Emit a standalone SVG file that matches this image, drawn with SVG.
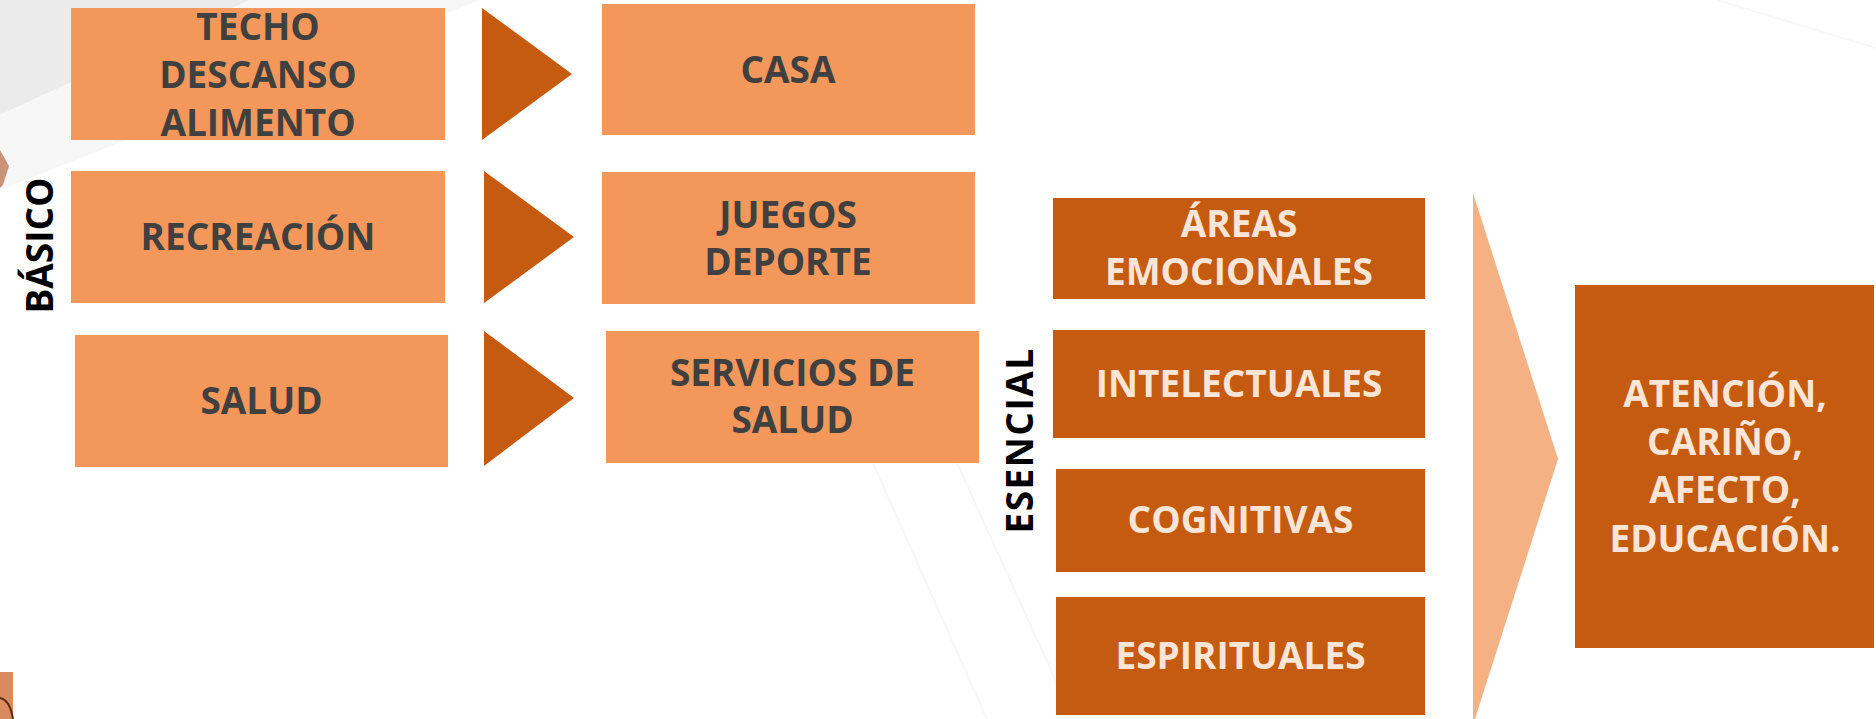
<svg xmlns="http://www.w3.org/2000/svg" width="1876" height="719" viewBox="0 0 1876 719">
  <style>
    .light { fill: #F4975A; }
    .dark { fill: #C55A11; }
    .tri { fill: #C55A11; }
    .t { font-family: "Open Sans", "Liberation Sans", sans-serif; font-weight: bold; font-size: 37px; text-anchor: middle; }
    .tdark { fill: #404040; }
    .tlight { fill: #FBE5D6; }
    .side { font-family: "Open Sans", "Liberation Sans", sans-serif; font-weight: bold; font-size: 37px; text-anchor: middle; fill: #000000; }
    .faint { stroke: #F8F8F8; stroke-width: 2; fill: none; }
  </style>
  <rect width="1876" height="719" fill="#FFFFFF"/>
  <g id="background">
    <polygon points="0,0 250,0 0,115" fill="#EBEBEB"/>
    <polygon points="250,0 480,0 470,4 0,190 0,115" fill="#F7F7F7"/>
    <line class="faint" x1="873" y1="463" x2="987" y2="719"/>
    <line class="faint" x1="957" y1="463" x2="1060" y2="690"/>
    <line class="faint" x1="1717" y1="0" x2="1876" y2="48"/>
    <polygon points="0,150 9,166 3,185 0,188" fill="#C9937A"/>
    <rect x="0" y="672" width="13" height="47" fill="#D98A5E"/>
    <path d="M0,698 Q10,700 13,719" fill="none" stroke="#5A2D10" stroke-width="2"/>
  </g>
  <g id="connectors">
    <polygon class="tri" points="482,8 572,74 482,140"/>
    <polygon class="tri" points="484,171 574,237 484,303"/>
    <polygon class="tri" points="484,331 574,398 484,466"/>
    <polygon points="1473,193 1558,459 1473,725" fill="#F4B183"/>
  </g>
  <g id="label-basico">
    <text class="side" x="53" y="245.5" transform="rotate(-90 53 245.5)">BÁSICO</text>
  </g>
  <g id="label-esencial">
    <text class="side" x="1033" y="440.5" letter-spacing="1.5" transform="rotate(-90 1033 440.5)">ESENCIAL</text>
  </g>
  <g id="node-techo">
    <rect class="light" x="71" y="8" width="374" height="132"/>
    <text class="t tdark" x="258" y="40">TECHO</text>
    <text class="t tdark" x="258" y="88">DESCANSO</text>
    <text class="t tdark" x="258" y="136">ALIMENTO</text>
  </g>
  <g id="node-casa">
    <rect class="light" x="602" y="4" width="373" height="131"/>
    <text class="t tdark" x="788" y="83">CASA</text>
  </g>
  <g id="node-recreacion">
    <rect class="light" x="71" y="171" width="374" height="132"/>
    <text class="t tdark" x="258" y="250">RECREACIÓN</text>
  </g>
  <g id="node-juegos">
    <rect class="light" x="602" y="172" width="373" height="132"/>
    <text class="t tdark" x="788" y="228">JUEGOS</text>
    <text class="t tdark" x="788" y="275">DEPORTE</text>
  </g>
  <g id="node-salud">
    <rect class="light" x="75" y="335" width="373" height="132"/>
    <text class="t tdark" x="261.5" y="414">SALUD</text>
  </g>
  <g id="node-servicios">
    <rect class="light" x="606" y="331" width="373" height="132"/>
    <text class="t tdark" x="792.5" y="386">SERVICIOS DE</text>
    <text class="t tdark" x="792.5" y="433">SALUD</text>
  </g>
  <g id="node-areas">
    <rect class="dark" x="1053" y="198" width="372" height="101"/>
    <text class="t tlight" x="1239" y="237">ÁREAS</text>
    <text class="t tlight" x="1239" y="285">EMOCIONALES</text>
  </g>
  <g id="node-intelectuales">
    <rect class="dark" x="1053" y="330" width="372" height="108"/>
    <text class="t tlight" x="1239" y="397">INTELECTUALES</text>
  </g>
  <g id="node-cognitivas">
    <rect class="dark" x="1056" y="469" width="369" height="103"/>
    <text class="t tlight" x="1240.5" y="533">COGNITIVAS</text>
  </g>
  <g id="node-espirituales">
    <rect class="dark" x="1056" y="597" width="369" height="118"/>
    <text class="t tlight" x="1240.5" y="669">ESPIRITUALES</text>
  </g>
  <g id="node-atencion">
    <rect class="dark" x="1575" y="285" width="299" height="363"/>
    <text class="t tlight" x="1725" y="407">ATENCIÓN,</text>
    <text class="t tlight" x="1725" y="455">CARIÑO,</text>
    <text class="t tlight" x="1725" y="503">AFECTO,</text>
    <text class="t tlight" x="1725" y="552">EDUCACIÓN.</text>
  </g>
</svg>
